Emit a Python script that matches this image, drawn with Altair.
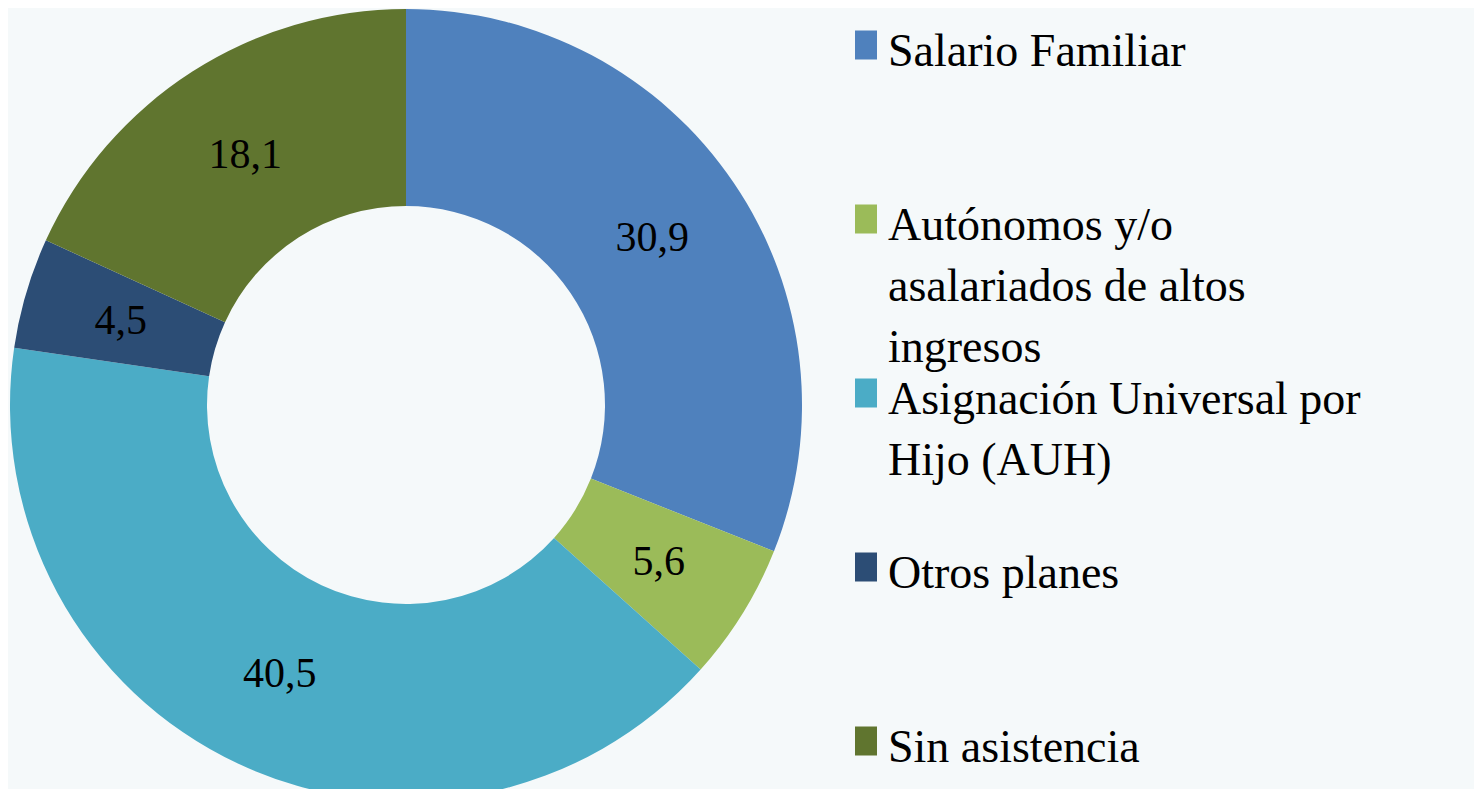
import altair as alt
import pandas as pd

categories = [
    "Salario Familiar",
    "Autónomos y/o asalariados de altos ingresos",
    "Asignación Universal por Hijo (AUH)",
    "Otros planes",
    "Sin asistencia",
]
legend_text = [
    "Salario Familiar",
    "Autónomos y/o\nasalariados de altos\ningresos",
    "Asignación Universal por\nHijo (AUH)",
    "Otros planes",
    "Sin asistencia",
]
values = [30.9, 5.6, 40.5, 4.5, 18.1]
colors = ["#4F81BD", "#9BBB59", "#4BACC6", "#2C4D75", "#60752F"]

BG = "#F5F9FA"
FONT = "Liberation Serif"

df = pd.DataFrame({
    "cat": categories,
    "leg": legend_text,
    "value": values,
    "idx": list(range(len(categories))),
})

color_scale = alt.Scale(domain=categories, range=colors)

base = alt.Chart(df).transform_calculate(
    lab="replace(format(datum.value, '.1f'), '.', ',')"
).encode(
    theta=alt.Theta("value:Q", stack=True),
    order=alt.Order("idx:Q"),
)

arc = base.mark_arc(innerRadius=199, outerRadius=396, clip=True).encode(
    color=alt.Color("cat:N", scale=color_scale, legend=None),
    y=alt.value(397),
)
labels = base.mark_text(radius=297.5, font=FONT, fontSize=42, color="#000000", clip=True).encode(
    text="lab:N",
    y=alt.value(397),
)
donut = alt.layer(arc, labels).properties(width=796, height=781)

leg_base = alt.Chart(df).encode(
    y=alt.Y("cat:N", sort=categories, axis=None,
            scale=alt.Scale(type="point", range=[37, 733], padding=0)),
)
swatch = leg_base.mark_point(
    shape="M-0.76,-1H0.76V1H-0.76Z", size=841, filled=True, opacity=1, strokeWidth=0
).encode(
    x=alt.value(62),
    color=alt.Color("cat:N", scale=color_scale, legend=None),
)
leg_txt = leg_base.mark_text(
    align="left", baseline="alphabetic", dy=21, font=FONT, fontSize=46,
    lineHeight=61, lineBreak="\n", color="#000000"
).encode(
    x=alt.value(84),
    text="leg:N",
)
legend = alt.layer(swatch, leg_txt).properties(width=670, height=781)

chart = alt.hconcat(donut, legend, spacing=0).properties(
    padding=0, background=BG
).configure_view(stroke=None)

chart.save("out.html", embed_options={"renderer": "svg", "actions": False})
